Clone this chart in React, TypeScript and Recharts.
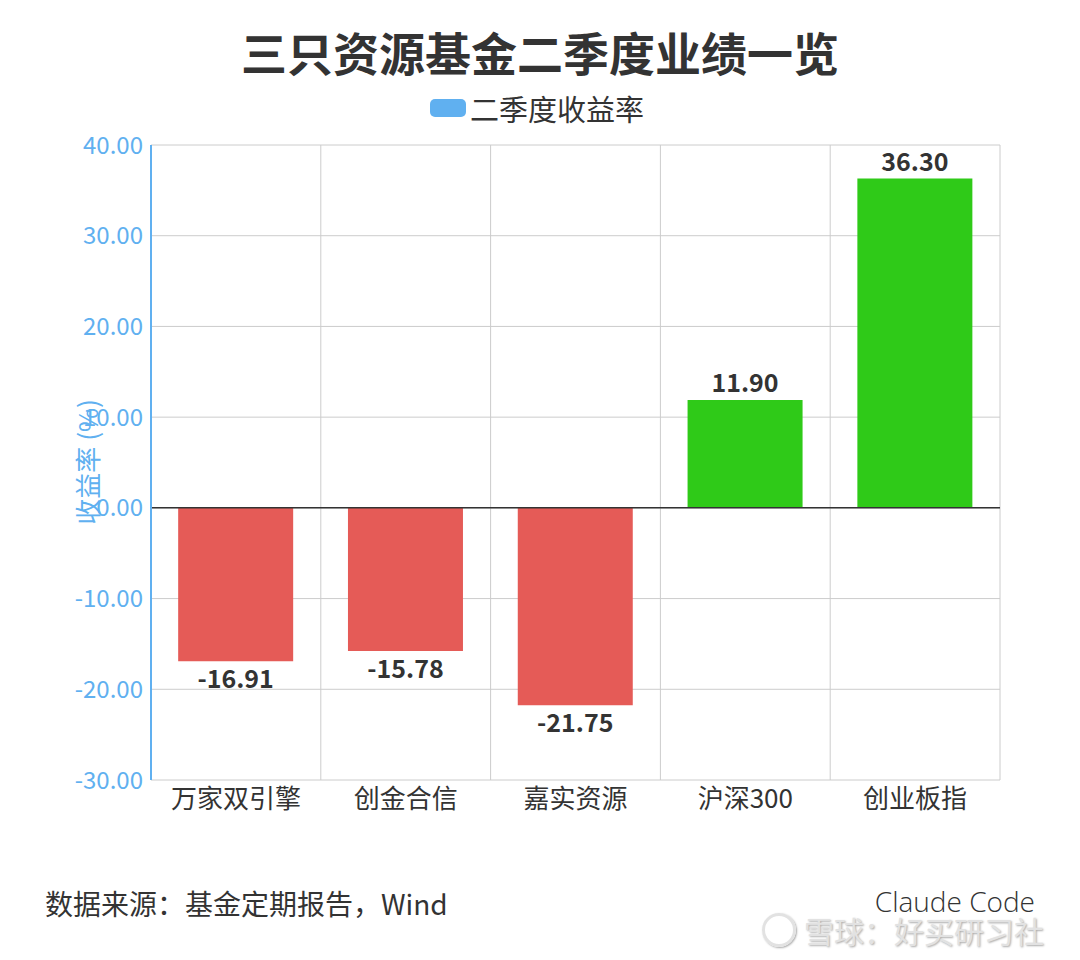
import {
  BarChart,
  Bar,
  Cell,
  XAxis,
  YAxis,
  CartesianGrid,
  ReferenceLine,
  LabelList,
} from "recharts";

const funds = ["万家双引擎", "创金合信", "嘉实资源", "沪深300", "创业板指"];
const q2Returns = [-16.91, -15.78, -21.75, 11.9, 36.3];
const yTicks = [-30, -20, -10, 0, 10, 20, 30, 40];

const data = funds.map((name, i) => ({ name, value: q2Returns[i] }));

const BLUE = "#60B0F0";
const RED = "#E55B57";
const GREEN = "#2FCA18";
const FONT = '"Noto Sans CJK SC", "Noto Sans", sans-serif';

// value label: above positive bars, below negative ones
const renderValue = (props: any) => {
  const { x, y, width, height, value } = props;
  const top = Math.min(y, y + height);
  const bottom = Math.max(y, y + height);
  const ty = value < 0 ? bottom + 16 : top - 19;
  return (
    <text
      x={x + width / 2}
      y={ty}
      textAnchor="middle"
      dominantBaseline="central"
      fill="#333"
      fontSize={25}
      fontWeight={700}
    >
      {Number(value).toFixed(2)}
    </text>
  );
};

export default function App() {
  return (
    <div
      style={{
        position: "absolute",
        left: 0,
        top: 0,
        width: 1080,
        height: 960,
        background: "#fff",
        fontFamily: FONT,
        overflow: "hidden",
      }}
    >
      <div
        style={{
          position: "absolute",
          top: 23,
          width: "100%",
          textAlign: "center",
          fontSize: 46,
          fontWeight: 700,
          color: "#333",
          lineHeight: "56px",
        }}
      >
        三只资源基金二季度业绩一览
      </div>

      {/* legend */}
      <div
        style={{
          position: "absolute",
          top: 89,
          left: 0,
          width: "100%",
          display: "flex",
          justifyContent: "center",
          alignItems: "center",
          height: 38,
        }}
      >
        <span
          style={{
            display: "inline-block",
            width: 36,
            height: 18,
            borderRadius: 5,
            background: BLUE,
            marginRight: 4,
            marginLeft: -6,
          }}
        />
        <span style={{ fontSize: 29, color: "#333" }}>二季度收益率</span>
      </div>

      <BarChart
        width={1080}
        height={960}
        data={data}
        margin={{ top: 145, right: 80, bottom: 140, left: 0 }}
        barCategoryGap="16%"
      >
        <CartesianGrid
          stroke="#ccc"
          verticalCoordinatesGenerator={({ offset }: any) =>
            funds
              .map((_, i) => offset.left + (i * offset.width) / funds.length)
              .concat(offset.left + offset.width)
          }
        />
        <XAxis
          dataKey="name"
          axisLine={false}
          tickLine={false}
          height={40}
          tickMargin={4}
          tick={{ fill: "#333", fontSize: 26 }}
        />
        <YAxis
          width={151}
          domain={[-30, 40]}
          ticks={yTicks}
          interval={0}
          tickFormatter={(v: number) => v.toFixed(2)}
          axisLine={{ stroke: BLUE, strokeWidth: 2 }}
          tickLine={false}
          tick={{ fill: BLUE, fontSize: 24 }}
        />
        <ReferenceLine y={0} stroke="#333" strokeWidth={1.5} />
        <Bar dataKey="value" isAnimationActive={false}>
          {data.map((d, i) => (
            <Cell key={`cell-${i}`} fill={d.value < 0 ? RED : GREEN} />
          ))}
          <LabelList dataKey="value" content={renderValue} />
        </Bar>
      </BarChart>

      {/* y axis title, sits over the tick labels like the original */}
      <div
        style={{
          position: "absolute",
          left: 86,
          top: 462,
          transform: "translate(-50%, -50%) rotate(-90deg)",
          whiteSpace: "nowrap",
          fontSize: 26,
          color: BLUE,
        }}
      >
        收益率 (%)
      </div>

      <div
        style={{
          position: "absolute",
          left: 45,
          top: 883,
          fontSize: 28,
          color: "#333",
        }}
      >
        数据来源：基金定期报告，Wind
      </div>
      <div
        style={{
          position: "absolute",
          right: 45,
          top: 882,
          fontSize: 28,
          fontWeight: 300,
          color: "#333",
          fontFamily: '"Open Sans", sans-serif',
        }}
      >
        Claude Code
      </div>

      {/* watermark */}
      <div
        style={{
          position: "absolute",
          left: 762,
          top: 908,
          display: "flex",
          alignItems: "center",
          color: "#e2e2e2",
          fontSize: 30,
          textShadow: "1px 1px 2px #aaa",
        }}
      >
        <span
          style={{
            display: "inline-block",
            width: 28,
            height: 28,
            borderRadius: "50%",
            border: "3px solid #e2e2e2",
            boxShadow: "1px 1px 2px #aaa",
            marginRight: 8,
          }}
        />
        雪球：好买研习社
      </div>
    </div>
  );
}
